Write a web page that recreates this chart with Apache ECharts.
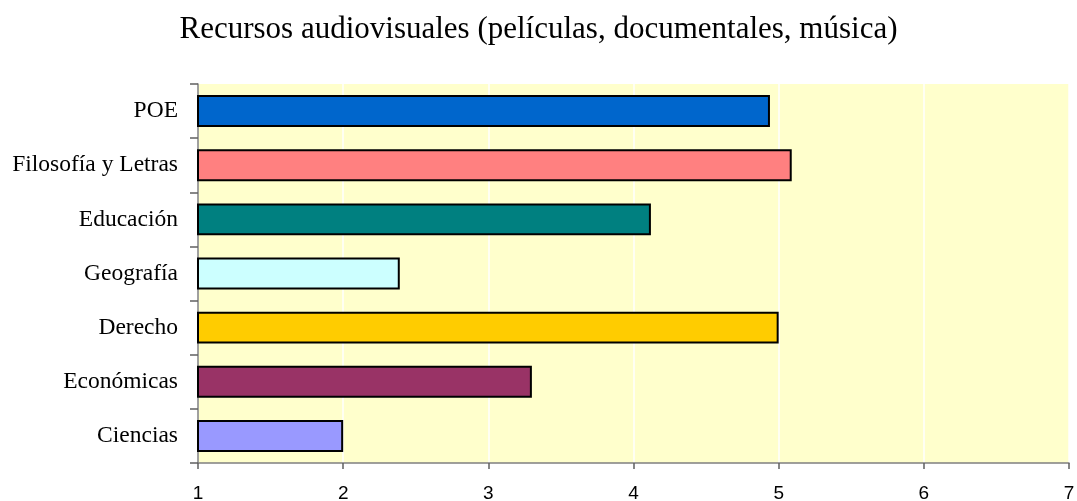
<!DOCTYPE html>
<html>
<head>
<meta charset="utf-8">
<script src="https://cdn.jsdelivr.net/npm/echarts@6/dist/echarts.min.js"></script>
<style>
html, body { margin: 0; padding: 0; background: #fff; }
#main { width: 1077px; height: 501px; }
</style>
</head>
<body>
<div id="main"></div>
<script>
// data
var categories = ['POE', 'Filosofía y Letras', 'Educación', 'Geografía', 'Derecho', 'Económicas', 'Ciencias'];
var values = [4.94, 5.09, 4.12, 2.39, 5.0, 3.30, 2.0];
var xTicks = [1, 2, 3, 4, 5, 6, 7];

var barColors = ['#0066CC', '#FF8080', '#008080', '#CCFFFF', '#FFCC00', '#993366', '#9999FF'];

var myChart = echarts.init(document.getElementById('main'));

var option = {
    animation: false,
    title: {
        text: 'Recursos audiovisuales (películas, documentales, música)',
        left: 'center',
        top: 9,
        textStyle: {
            fontFamily: 'Liberation Serif',
            fontWeight: 'normal',
            fontSize: 31,
            color: '#000'
        }
    },
    grid: {
        left: 198,
        right: 8,
        top: 84,
        bottom: 38,
        outerBoundsMode: 'none',
        containLabel: false,
        show: true,
        backgroundColor: '#FFFFCC',
        borderWidth: 0
    },
    xAxis: {
        type: 'value',
        min: xTicks[0],
        max: xTicks[xTicks.length - 1],
        interval: 1,
        axisLine: { show: true, lineStyle: { color: '#808080', width: 1.5 } },
        axisTick: { show: true, length: 6, lineStyle: { color: '#606060', width: 1.5 } },
        axisLabel: {
            margin: 21,
            fontFamily: 'Liberation Sans',
            fontSize: 19,
            color: '#000'
        },
        splitLine: { show: true, lineStyle: { color: '#ffffff', width: 1.5 } }
    },
    yAxis: {
        type: 'category',
        data: categories,
        inverse: true,
        axisLine: { show: true, lineStyle: { color: '#808080', width: 1.5 } },
        axisTick: { show: true, length: 8, alignWithLabel: false, lineStyle: { color: '#606060', width: 1.5 } },
        axisLabel: {
            margin: 20,
            fontFamily: 'Liberation Serif',
            fontSize: 23.5,
            color: '#000'
        },
        splitLine: { show: false }
    },
    series: [{
        type: 'bar',
        barCategoryGap: '41%',
        data: values.map(function (v, i) {
            return {
                value: v,
                itemStyle: { color: barColors[i], borderColor: '#000', borderWidth: 2 }
            };
        })
    }]
};

myChart.setOption(option);
</script>
</body>
</html>
